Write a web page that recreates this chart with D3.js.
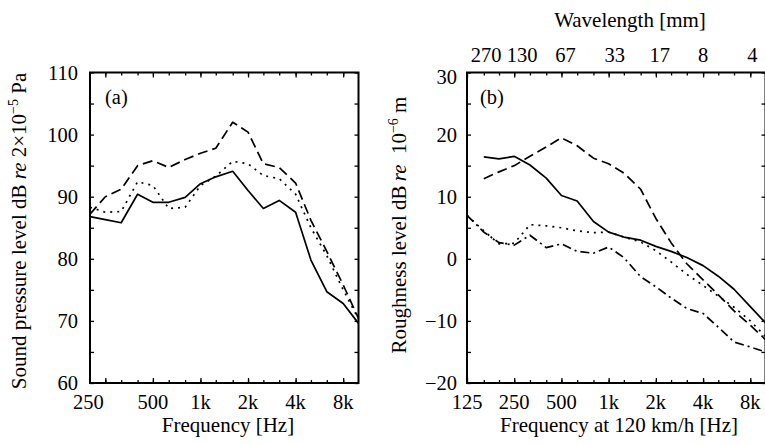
<!DOCTYPE html>
<html><head><meta charset="utf-8">
<script src="https://cdn.jsdelivr.net/npm/d3@7"></script>
<style>
body{margin:0;background:#fff;}
</style>
</head><body>
<svg id="chart" width="765" height="444" font-family="'Liberation Serif', 'DejaVu Serif', 'Times New Roman', Times, serif"></svg>
<script>
// ---------- Data ----------
// Panel (a): one-third-octave bands, sound pressure level (dB re 2e-5 Pa)
const bandsA = [200,250,315,400,500,630,800,1000,1250,1600,2000,2500,3150,4000,5000,6300,8000,10000];
const splSolid  = [86.8,86.3,85.8,90.4,89.1,89.1,89.9,92.1,93.2,94.1,91.0,88.1,89.4,87.5,79.8,74.7,72.8,69.6];
const splDashed = [87.2,90.0,91.2,95.0,95.8,94.7,96.0,97.0,97.8,102.0,100.4,95.3,94.7,92.2,86.2,81.2,75.8,70.4];
const splDotted = [88.3,87.5,87.6,92.4,91.8,88.1,88.3,91.8,93.3,95.7,95.3,93.4,92.9,90.4,85.0,80.5,75.0,70.3];

// Panel (b): roughness level (dB re 1e-6 m)
const bandsB = [125,160,200,250,315,400,500,630,800,1000,1250,1600,2000,2500,3150,4000,5000,6300,8000,10000];
const roughSolid   = [null,16.4,16.1,16.5,15.1,13.0,10.2,9.3,6.0,4.3,3.5,3.0,2.0,1.2,0.2,-1.1,-2.8,-4.9,-7.7,-10.3];
const roughDashed  = [null,12.9,14.0,15.0,16.5,18.0,19.5,18.2,16.2,15.3,13.8,11.2,6.5,2.6,-0.8,-3.4,-5.8,-8.4,-10.7,-13.0];
const roughDotted  = [7.0,4.5,2.4,2.5,5.5,5.3,5.0,4.5,4.2,4.3,3.5,2.7,1.3,-0.5,-2.5,-4.3,-6.0,-7.8,-10.0,-12.5];
const roughDashDot = [7.0,4.3,2.6,2.2,3.8,1.8,2.4,1.2,0.9,1.9,0.2,-2.9,-4.5,-6.3,-8.0,-8.8,-11.0,-13.4,-14.2,-15.0];

// Tick labels
const tickFreqA   = [250,500,1000,2000,4000,8000];
const tickLabelsA = ["250","500","1k","2k","4k","8k"];
const tickFreqB   = [125,250,500,1000,2000,4000,8000];
const tickLabelsB = ["125","250","500","1k","2k","4k","8k"];
const wavelengthLabels = ["270","130","67","33","17","8","4"];
const yTicksA = [60,70,80,90,100,110];
const yTicksB = [-20,-10,0,10,20,30];
const yMinorA = [60,65,70,75,80,85,90,95,100,105,110];
const yMinorB = [-20,-15,-10,-5,0,5,10,15,20,25,30];

// ---------- Drawing ----------
const FONT = "'Liberation Serif', 'DejaVu Serif', 'Times New Roman', Times, serif";
const svg = d3.select("#chart");
const FS = 20.5;
const FT = 21;

const styles = {
  solid:   null,
  dashed:  "10,5",
  dotted:  "2,5",
  dashdot: "9,4,2,4"
};

function txt(sel){ return sel.append("text").attr("font-family",FONT).attr("fill","#000"); }

function panel(opts){
  const x = d3.scaleLog().domain(opts.xDomain).range(opts.xRange);
  const y = d3.scaleLinear().domain(opts.yDomain).range([383, 72.5]);
  const g = svg.append("g");
  const [x0,x1] = opts.xRange;
  const yb = 383, yt = 72.5;

  const minorX = opts.bands.filter(f => f > opts.xDomain[0] && f < opts.xDomain[1]);
  g.append("g").attr("transform",`translate(0,${yb})`)
    .call(d3.axisBottom(x).tickValues(minorX).tickSizeInner(-3).tickSizeOuter(0).tickFormat(""));
  g.append("g").attr("transform",`translate(0,${yt})`)
    .call(d3.axisTop(x).tickValues(minorX).tickSizeInner(-3).tickSizeOuter(0).tickFormat(""));
  g.append("g").attr("transform",`translate(0,${yb})`)
    .call(d3.axisBottom(x).tickValues(opts.majorX).tickSizeInner(-5).tickSizeOuter(0).tickFormat(""));
  g.append("g").attr("transform",`translate(0,${yt})`)
    .call(d3.axisTop(x).tickValues(opts.majorX).tickSizeInner(-5).tickSizeOuter(0).tickFormat(""));
  g.append("g").attr("transform",`translate(${x0},0)`)
    .call(d3.axisLeft(y).tickValues(opts.yMinor).tickSizeInner(-4).tickSizeOuter(0).tickFormat(""));
  g.append("g").attr("transform",`translate(${x1},0)`)
    .call(d3.axisRight(y).tickValues(opts.yMinor).tickSizeInner(-4).tickSizeOuter(0).tickFormat(""));
  g.selectAll(".domain").remove();
  g.selectAll(".tick line").attr("stroke","#000").attr("stroke-width",1.3);

  g.append("rect").attr("x",x0).attr("y",yt).attr("width",x1-x0).attr("height",yb-yt)
    .attr("fill","none").attr("stroke","#000").attr("stroke-width",2);

  g.selectAll(".xl").data(opts.majorX).join("text")
    .attr("font-family",FONT).attr("fill","#000")
    .attr("x",(d,i)=>x(d)+(opts.xLabelNudge[i]||0)).attr("y",409)
    .attr("text-anchor","middle").attr("font-size",FS)
    .text((d,i)=>opts.xLabels[i]);
  g.selectAll(".yl").data(opts.yTicks).join("text")
    .attr("font-family",FONT).attr("fill","#000")
    .attr("x",opts.yLabelX).attr("y",d=>y(d)+7+(opts.yLabelNudge(d)))
    .attr("text-anchor","end").attr("font-size",FS)
    .text(d=>d<0?"\u2212"+Math.abs(d):d);

  const line = d3.line().defined(d=>d[1]!=null).x(d=>x(d[0])).y(d=>y(d[1]));
  opts.series.forEach(s=>{
    g.append("path")
      .datum(opts.bands.map((f,i)=>[f,s.values[i]]))
      .attr("d",line).attr("fill","none").attr("stroke","#000")
      .attr("stroke-width",1.7)
      .attr("stroke-linejoin","round")
      .attr("stroke-dasharray",styles[s.style]);
  });

  txt(g).attr("x",opts.letterX).attr("y",104).attr("font-size",FS).text(opts.letter);
  return {x,y,g};
}

const A = panel({
  xDomain:[200,10000], xRange:[90,358.5], yDomain:[60,110],
  bands:bandsA, majorX:tickFreqA, xLabels:tickLabelsA, xLabelNudge:[-17,0,0,0,0,0],
  yTicks:yTicksA, yMinor:yMinorA, yLabelX:78, yLabelNudge:d=>0,
  series:[{values:splSolid,style:"solid"},{values:splDashed,style:"dashed"},{values:splDotted,style:"dotted"}],
  letter:"(a)", letterX:105
});

const B = panel({
  xDomain:[125,10000], xRange:[467,765.5], yDomain:[-20,30],
  bands:bandsB, majorX:tickFreqB, xLabels:tickLabelsB, xLabelNudge:[],
  yTicks:yTicksB, yMinor:yMinorB, yLabelX:457, yLabelNudge:d=>d===30?4:0,
  series:[{values:roughSolid,style:"solid"},{values:roughDashed,style:"dashed"},
          {values:roughDotted,style:"dotted"},{values:roughDashDot,style:"dashdot"}],
  letter:"(b)", letterX:480
});

const wlNudge = [19,8,4,6,4,0,2];
B.g.selectAll(".wl").data(tickFreqB).join("text")
  .attr("font-family",FONT).attr("fill","#000")
  .attr("x",(d,i)=>B.x(d)+wlNudge[i]).attr("y",62)
  .attr("text-anchor","middle").attr("font-size",FS)
  .text((d,i)=>wavelengthLabels[i]);

txt(svg).attr("x",228).attr("y",432).attr("text-anchor","middle")
  .attr("font-size",FT).text("Frequency [Hz]");
txt(svg).attr("x",619).attr("y",432).attr("text-anchor","middle")
  .attr("font-size",FT).text("Frequency at 120 km/h [Hz]");
txt(svg).attr("x",630).attr("y",27).attr("text-anchor","middle")
  .attr("font-size",FT).text("Wavelength [mm]");

const ta = txt(svg).attr("transform","translate(26,231) rotate(-90)")
  .attr("text-anchor","middle").attr("font-size",FT);
ta.append("tspan").text("Sound pressure level dB ");
ta.append("tspan").attr("font-style","italic").text("re");
ta.append("tspan").text(" 2\u00d710");
ta.append("tspan").attr("font-size",14).attr("dy",-8).text("\u22125");
ta.append("tspan").attr("dy",8).text(" Pa");

const tb = txt(svg).attr("transform","translate(406,225) rotate(-90)")
  .attr("text-anchor","middle").attr("font-size",FT);
tb.append("tspan").text("Roughness level dB\u2009");
tb.append("tspan").attr("font-style","italic").text("re");
tb.append("tspan").text("\u00a0 10");
tb.append("tspan").attr("font-size",14).attr("dy",-8).text("\u22126");
tb.append("tspan").attr("dy",8).text(" m");
</script>
</body></html>
